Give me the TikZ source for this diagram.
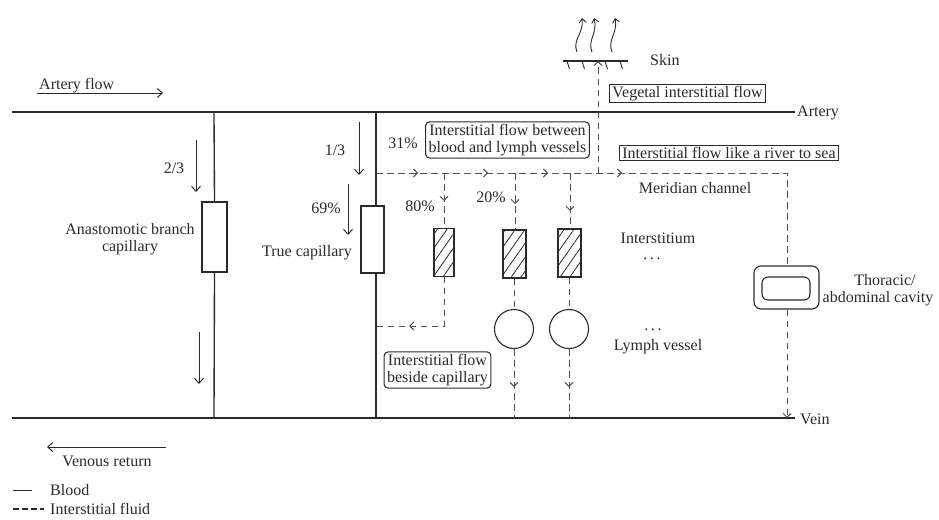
\documentclass[tikz,border=0pt]{standalone}
\usepackage{fontspec}
\setmainfont{Liberation Serif}
\usetikzlibrary{arrows.meta,patterns.meta,decorations.markings}
\definecolor{ink}{HTML}{2A2A2A}
\definecolor{fluid}{HTML}{505050}
\tikzset{
  blood/.style={draw=ink, line width=1.35pt},
  fluidline/.style={draw=fluid, line width=1pt, dash pattern=on 6.5pt off 4.5pt},
  chev/.tip={Straight Barb[length=4pt,width=8pt,line width=1pt]},
  flowarrow/.style={draw=ink, line width=1pt, -{Straight Barb[length=5pt,width=9pt]}},
  capbox/.style={draw=ink, line width=1.3pt, fill=white, minimum width=24pt, minimum height=69pt, inner sep=0pt},
  hatchbox/.style={draw=ink, line width=1.2pt, minimum width=22pt, minimum height=48pt, inner sep=0pt,
     pattern={Lines[angle=55,distance=8pt,line width=0.8pt]}, pattern color=ink},
  lymph/.style={circle, draw=ink, line width=1.1pt, fill=white, minimum size=39pt, inner sep=0pt},
  labelbox/.style={draw=ink, line width=1.1pt, inner xsep=3pt, inner ysep=2pt, align=center, fill=white},
  roundbox/.style={labelbox, rounded corners=4pt},
  txt/.style={text=ink, inner sep=0pt},
  midarrow/.style={postaction={decorate, decoration={markings, mark=at position #1 with {\arrow[fluid, solid]{chev}}}}},
}
\begin{document}
\begin{tikzpicture}[x=1pt, y=-1pt, font=\fontsize{16}{17.5}\selectfont, text=ink]
\useasboundingbox (0,0) rectangle (939,519);

% ---------- artery and vein ----------
\coordinate (A0) at (12,112);
\coordinate (A1) at (795,112);
\coordinate (V0) at (12,418);
\coordinate (V1) at (795,418);
\draw[blood] (A0) -- (A1);
\draw[blood] (V0) -- (V1);
\node[txt, anchor=west] (artery) at (797,113) {Artery};
\node[txt, anchor=west] (vein) at (800,419) {Vein};

% artery flow / venous return
\node[txt, anchor=base west] (aflow) at (39,89) {Artery flow};
\coordinate (af0) at (37,93); \coordinate (af1) at (163,93);
\draw[flowarrow] (af0) -- (af1);
\coordinate (vr0) at (166,447); \coordinate (vr1) at (47,447);
\draw[flowarrow] (vr0) -- (vr1);
\node[txt] (vret) at (107,461) {Venous return};

% ---------- anastomotic branch ----------
\node[capbox, minimum width=25pt, minimum height=70pt] (AB) at (214.5,237) {};
\coordinate (ABt) at (214,112); \coordinate (ABb) at (214,418);
\draw[blood] (ABt) -- (AB.north);
\draw[blood] (AB.south) -- (ABb);
\node[txt, align=center] (ABl) at (130,239) {Anastomotic branch\\capillary};
\coordinate (ar1a) at (196,140); \coordinate (ar1b) at (196,192);
\draw[flowarrow] (ar1a) -- (ar1b);
\node[txt] (l23) at (174,168) {2/3};
\coordinate (ar2a) at (199,332); \coordinate (ar2b) at (199,384);
\draw[flowarrow] (ar2a) -- (ar2b);

% ---------- true capillary ----------
\node[capbox, minimum width=23pt, minimum height=67pt] (TC) at (372.5,239.5) {};
\coordinate (TCt) at (376,112); \coordinate (TCb) at (376,418);
\draw[blood] (TCt) -- (TC.north -| TCt);
\draw[blood] (TC.south -| TCt) -- (TCb);
\node[txt, anchor=east] (TCl) at (352,253) {True capillary};
\coordinate (ar3a) at (359,122); \coordinate (ar3b) at (359,175);
\draw[flowarrow] (ar3a) -- (ar3b);
\node[txt] (l13) at (335,150) {1/3};
\coordinate (ar4a) at (348,184); \coordinate (ar4b) at (348,235);
\draw[flowarrow] (ar4a) -- (ar4b);
\node[txt] (l69) at (326,208) {69\%};

% ---------- interstitial flow ----------
\coordinate (F0) at (376,173);
\coordinate (Fc) at (787,173);
\node[draw=ink, line width=1.1pt, rounded corners=7pt, fill=white, minimum width=65pt, minimum height=43pt, inner sep=0pt] (cav) at (786.5,287.5) {};
\node[draw=ink, line width=1.1pt, rounded corners=6pt, minimum width=48pt, minimum height=23pt, inner sep=0pt] (cavin) at (786,288.5) {};
\draw[fluidline, midarrow=42pt, midarrow=112pt, midarrow=172pt, midarrow=246pt] (F0) -- (Fc) -- (cav.north -| Fc);
\draw[fluidline, -chev] (cav.south -| Fc) -- (V1 -| Fc);
\node[txt, align=center] (cavl) at (878,290) {\hspace*{14pt}Thoracic/\\abdominal cavity};

% skin branch
\coordinate (S0) at (598,173);
\coordinate (Sk0) at (563,61); \coordinate (Sk1) at (628,61);
\draw[blood, line width=1.1pt] (Sk0) -- (Sk1);
\draw[fluidline, -chev] (S0) -- (S0 |- Sk0);
\foreach \x in {567,582,605,620} \draw[ink, line width=0.9pt] (\x,61) -- (\x+2.5,69);
\node[txt, anchor=west] (skin) at (650,60) {Skin};
\draw[ink, line width=0.9pt, -{Straight Barb[length=4pt,width=7pt]}] (577,52) .. controls (572,40) and (584,33) .. (582,18);
\draw[ink, line width=0.9pt, -{Straight Barb[length=4pt,width=7pt]}] (592,52) .. controls (587,40) and (598,33) .. (594,18);
\draw[ink, line width=0.9pt, -{Straight Barb[length=4pt,width=7pt]}] (612,52) .. controls (607,40) and (618,33) .. (615,18);

% labels boxes
\node[labelbox] (veg) at (687.5,93.5) {Vegetal interstitial flow};
\node[labelbox] (river) at (729,153) {Interstitial flow like a river to sea};
\node[roundbox] (between) at (507.5,140) {Interstitial flow between\\blood and lymph vessels};
\node[txt] (l31) at (403,143) {31\%};
\node[txt] (merid) at (695,188) {Meridian channel};

% ---------- interstitium / lymph ----------
\node[hatchbox, minimum width=20pt] (H1) at (444,252.5) {};
\node[hatchbox, minimum width=23pt] (H2) at (514.5,254) {};
\node[hatchbox, minimum width=23pt] (H3) at (569.5,253) {};
\coordinate (B1) at (444,173); \coordinate (B2) at (515,173); \coordinate (B3) at (570,173);
\draw[fluidline, midarrow=28pt] (B1) -- (H1.north -| B1);
\draw[fluidline, midarrow=31pt] (B2) -- (H2.north -| B2);
\draw[fluidline, midarrow=38pt] (B3) -- (H3.north -| B3);
\node[txt] (l80) at (420,206) {80\%};
\node[txt] (l20) at (491,197) {20\%};

\coordinate (Lc) at (444,326);
\coordinate (Lt) at (376,326);
\draw[fluidline, midarrow=84pt] (H1.south -| B1) -- (Lc) -- (Lt);

\node[lymph] (C2) at (514,329) {};
\node[lymph] (C3) at (569,329) {};
\draw[fluidline] (H2.south -| C2) -- (C2.north);
\draw[fluidline] (H3.south -| C3) -- (C3.north);
\draw[fluidline, midarrow=38pt] (C2.south) -- (C2.south |- V1);
\draw[fluidline, midarrow=38pt] (C3.south) -- (C3.south |- V1);

\node[roundbox] (beside) at (437.5,370) {Interstitial flow\\beside capillary};

\node[txt] (inter) at (658,238) {Interstitium};
\node[txt, anchor=base] (dots1) at (652,259) {.\,.\,.};
\node[txt, anchor=base] (dots2) at (653,330) {.\,.\,.};
\node[txt] (lv) at (658,347) {Lymph vessel};

% ---------- legend ----------
\coordinate (lg0) at (13,490); \coordinate (lg1) at (32,490);
\draw[blood, line width=0.9pt] (lg0) -- (lg1);
\node[txt, anchor=west] (lgb) at (50,490) {Blood};
\coordinate (lf0) at (13,509); \coordinate (lf1) at (44,509);
\draw[draw=ink, line width=1.2pt, dash pattern=on 6pt off 3pt] (lf0) -- (lf1);
\node[txt, anchor=west] (lgf) at (50,509) {Interstitial fluid};
\end{tikzpicture}
\end{document}
